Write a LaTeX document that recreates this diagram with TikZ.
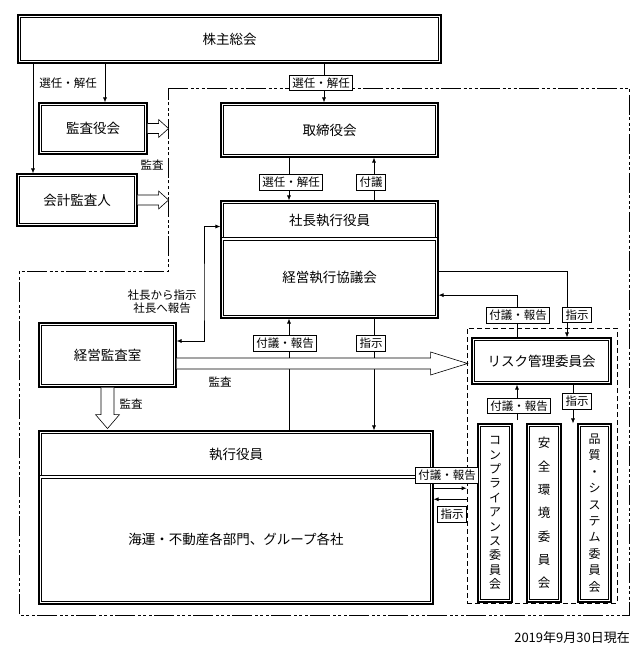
\documentclass[tikz,border=0pt]{standalone}
\usepackage{fontspec}
\setmainfont{Noto Sans CJK JP}
\usetikzlibrary{arrows.meta}
\usetikzlibrary{positioning}
\usetikzlibrary{calc}

\tikzset{
  dbox/.style={draw, line width=1.1pt, align=center, inner sep=0pt, font=\fontsize{13.5}{16}\selectfont,
    path picture={\draw[line width=0.6pt] ([shift={(2.7pt,-2.7pt)}]path picture bounding box.north west)
      rectangle ([shift={(-2.7pt,2.7pt)}]path picture bounding box.south east);}},
  tag/.style={draw, fill=white, line width=0.7pt, inner xsep=3pt, inner ysep=2.5pt, font=\fontsize{11.5}{13}\selectfont},
  note/.style={align=center, inner sep=0pt, font=\fontsize{11.5}{13}\selectfont},
  conn/.style={line width=0.7pt, -{Latex[length=5pt,width=4pt]}},
  hollow/.style={line width=0.6pt, fill=white},
  chain/.style={line width=0.7pt, dash pattern=on 20pt off 2.5pt on 3pt off 2.5pt on 3pt off 2.5pt on 3pt off 2.5pt},
  group/.style={draw, line width=0.7pt, dash pattern=on 5pt off 3pt},
}

\begin{document}
\begin{tikzpicture}[x=1pt, y=-1pt]
\useasboundingbox (0,0) rectangle (643,652);
% Frames
\draw[chain] (168,88) -- (629,88) -- (629,615) -- (19,615) -- (19,271) -- (168,271) -- cycle;
\node[group, minimum width=150, minimum height=275] (grp) at (542,465.5) {};

% Boxes
\node[dbox, minimum width=423, minimum height=48] (soukai) at (229.5,39) {株主総会};
\node[dbox, minimum width=108, minimum height=51] (kansayaku) at (93,128.5) {監査役会};
\node[dbox, minimum width=120, minimum height=52] (kaikei) at (77,200) {会計監査人};
\node[dbox, minimum width=217, minimum height=54] (torishimari) at (329.5,130) {取締役会};
\node[dbox, minimum width=217, minimum height=39] (shacho) at (329.5,220.5) {社長執行役員};
\node[dbox, fill=white, minimum width=217, minimum height=80.7] (kyogi) at (329.5,277.65) {経営執行協議会};
\node[dbox, minimum width=137, minimum height=64] (kansashitsu) at (107.5,355) {経営監査室};
\node[dbox, minimum width=394, minimum height=47] (shikko) at (236,454.5) {執行役員};
\node[dbox, fill=white, minimum width=394, minimum height=128.7] (bumon) at (236,539.65) {海運・不動産各部門、グループ各社};
\node[dbox, minimum width=139, minimum height=46] (risk) at (541.5,361) {リスク管理委員会};
\node[dbox, minimum width=34, minimum height=178, font=\fontsize{12}{14.4}\selectfont] (comp) at (495,513)
  {コ\\ン\\プ\\ラ\\イ\\ア\\ン\\ス\\委\\員\\会};
\node[dbox, minimum width=34, minimum height=178, font=\fontsize{12.5}{23.3}\selectfont] (anzen) at (544,513)
  {安\\全\\環\\境\\委\\員\\会};
\node[dbox, minimum width=33, minimum height=178, font=\fontsize{12}{16.4}\selectfont] (hinshitsu) at (594.5,513)
  {品\\質\\・\\シ\\ス\\テ\\ム\\委\\員\\会};

% Columns for connectors
\coordinate (a1) at (33,0);
\coordinate (a2) at (105,0);
\coordinate (t1) at (324,0);
\coordinate (c1) at (289,0);
\coordinate (c2) at (374,0);
\coordinate (r1) at (517,0);
\coordinate (r2) at (567,0);
\coordinate (r3) at (573,0);
\coordinate (s1) at (204,300);
\coordinate (q1) at (517,420);

% Connectors
\draw[conn] (soukai.south -| a1) -- (kaikei.north -| a1);
\draw[conn] (soukai.south -| a2) -- (kansayaku.north -| a2);
\node[note] (sennin0) at (68,83) {選任・解任};
\draw[conn] (soukai.south -| t1) -- node[tag, xshift=-3] (sennin1) {選任・解任} (torishimari.north -| t1);
\draw[conn] (torishimari.south -| c1) -- node[tag, pos=.58, xshift=2] (sennin2) {選任・解任} (shacho.north -| c1);
\draw[conn] (shacho.north -| c2) -- node[tag, pos=.42, xshift=-3] (fugi1) {付議} (torishimari.south -| c2);
\draw[conn] (shikko.north -| c1) -- node[tag, pos=.78, xshift=-4] (fugi2) {付議・報告} (kyogi.south -| c1);
\draw[conn] (kyogi.south -| c2) -- node[tag, pos=.22, xshift=-3] (shiji1) {指示} (shikko.north -| c2);
\draw[conn] ($(kyogi.east)+(0,-6.5)$) -| node[tag, pos=.83, xshift=10] (shiji2) {指示} (risk.north -| r2);
\draw[conn] (risk.north -| r1) |- node[tag, pos=.26, xshift=1] (fugi3) {付議・報告} ($(kyogi.east)+(0,17.5)$);
\draw[conn] (q1) -- node[tag, pos=.4, xshift=2] (fugi4) {付議・報告} (risk.south -| r1);
\draw[conn] (risk.south -| r3) -- node[tag, pos=.43, xshift=4] (shiji3) {指示} (hinshitsu.north -| r3);
\draw[conn] ($(bumon.north east)+(0,13.5)$) coordinate (f1) -- (f1 -| grp.west);
\draw[conn] ($(grp.west |- f1)+(0,11)$) coordinate (f2) -- (f2 -| bumon.east);
\node[tag] (fugi5) at (447,475) {付議・報告};
\node[tag] (shiji4) at (452,514.5) {指示};
\draw[line width=0.7pt, {Latex[length=5pt,width=4pt]}-{Latex[length=5pt,width=4pt]}]
  ($(shacho.west)+(0,6)$) -| (s1) |- ($(kansashitsu.east)+(0,-14)$);
\node[note] (hokoku) at (162,302) {社長から指示\\社長へ報告};

% Audit arrows
\draw[hollow] ($(kansayaku.east)+(0,-5)$) -- ++(11,0) -- ++(0,-4) -- ++(10,9) -- ++(-10,9) -- ++(0,-4) -- ++(-11,0);
\draw[hollow] ($(kaikei.east)+(0,-5)$) -- ++(21,0) -- ++(0,-4) -- ++(10,9) -- ++(-10,9) -- ++(0,-4) -- ++(-21,0);
\node[note] (kansa1) at (152,165) {監査};
\draw[hollow] ($(kansashitsu.south)+(-6.5,0)$) -- ++(0,27) -- ++(-5.5,0) -- ++(12,14) -- ++(12,-14) -- ++(-5.5,0) -- ++(0,-27);
\node[note] (kansa2) at (131,404) {監査};
\draw[hollow] ($(kansashitsu.east)+(0,3)$) -- ++(254,0) -- ++(0,-6) -- ++(37,11.5) -- ++(-37,11.5) -- ++(0,-6) -- ++(-254,0);
\node[note] (kansa3) at (220,382) {監査};

% Date
\node[note, anchor=east, font=\fontsize{13}{15}\selectfont] (date) at (630,638) {2019年9月30日現在};
\end{tikzpicture}
\end{document}
